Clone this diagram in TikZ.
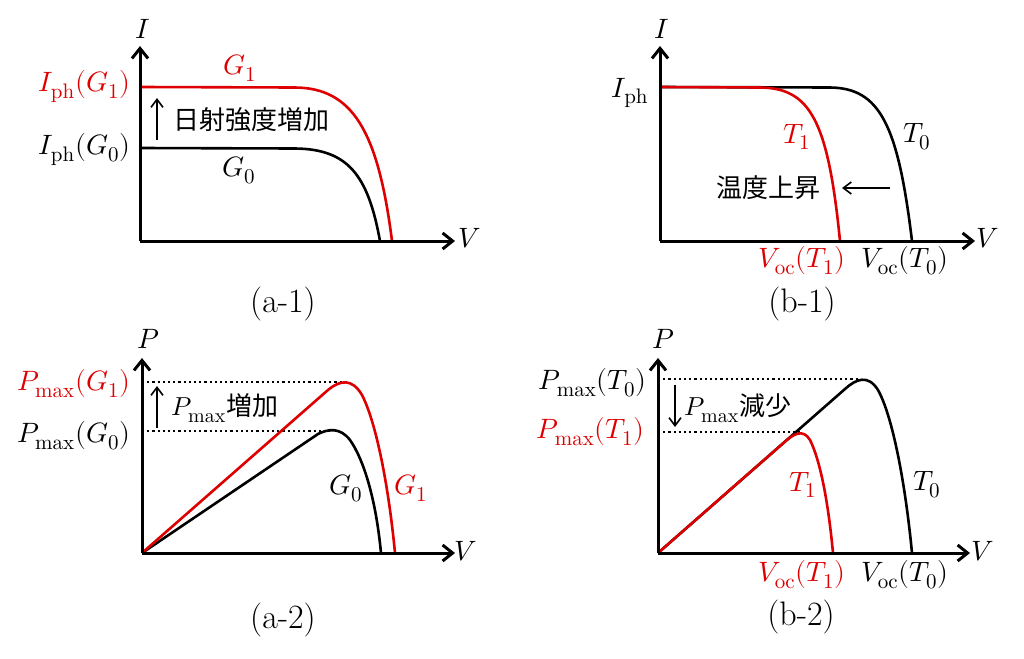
\documentclass[tikz,border=0pt]{standalone}
\usepackage{fontspec}
\usepackage{unicode-math}
\setmathfont{Latin Modern Math}
\DeclareMathSizes{14}{14}{10.5}{8}
\DeclareMathSizes{13}{13}{10}{8}
\newfontfamily\cjk{Noto Sans CJK JP}
\usetikzlibrary{arrows.meta}
\definecolor{cred}{RGB}{222,0,0}
\begin{document}
\begin{tikzpicture}[x=0.5pt,y=-0.5pt,
  axisline/.style={line width=1.5pt,-{Straight Barb[length=5pt,width=8pt]}},
  curveline/.style={line width=1.3pt, line join=round},
  lbl/.style={inner sep=0pt, font=\fontsize{14}{16}\selectfont},
  captxt/.style={inner sep=0pt, font=\fontsize{17}{19}\selectfont},
  jp/.style={inner sep=0pt, font=\fontsize{13}{15}\selectfont\cjk},
  smallarr/.style={line width=0.8pt,-{Straight Barb[length=4pt,width=6pt]}},
  dotline/.style={line width=1.1pt, dash pattern=on 1.1pt off 1.5pt},
]
\useasboundingbox (0,0) rectangle (1024,659);

% ---------------- (a-1) ----------------
\coordinate (a1o) at (140,241);
\coordinate (a1t) at (140,46);
\coordinate (a1r) at (455,241);
\draw[curveline] (140,148) -- (295,148.5) .. controls (348,149) and (368,175) .. (380,241);
\draw[curveline,cred] (140,87) -- (295,87.5) .. controls (352,88) and (378,130) .. (392,241);
\draw[axisline] (a1o) -- (a1t);
\draw[axisline] (a1o) -- (a1r);
\node[lbl] (a1I) at (143,29) {$I$};
\node[lbl] (a1V) at (470,238) {$V$};
\node[lbl,anchor=east,text=cred] (a1ph1) at (131,87) {$I_{\mathrm{ph}}(G_1)$};
\node[lbl,anchor=east] (a1ph0) at (131,150) {$I_{\mathrm{ph}}(G_0)$};
\node[lbl,text=cred] (a1g1) at (240,68) {$G_1$};
\node[lbl] (a1g0) at (239,170) {$G_0$};
\coordinate (a1s) at (157,140);
\coordinate (a1e) at (157,98);
\draw[smallarr] (a1s) -- (a1e);
\node[jp,anchor=west] (a1txt) at (173,120) {日射強度増加};
\node[captxt] (a1cap) at (283,304) {(a-1)};

% ---------------- (b-1) ----------------
\coordinate (b1o) at (660,241);
\coordinate (b1t) at (660,46);
\coordinate (b1r) at (975,241);
\draw[curveline] (660,87) -- (830,87.5) .. controls (880,88) and (898,125) .. (912,241);
\draw[curveline,cred] (660,87) -- (760,87.5) .. controls (810,88) and (828,120) .. (840,241);
\draw[axisline] (b1o) -- (b1t);
\draw[axisline] (b1o) -- (b1r);
\node[lbl] (b1I) at (662,29) {$I$};
\node[lbl] (b1V) at (988,238) {$V$};
\node[lbl,anchor=east] (b1ph) at (649,93) {$I_{\mathrm{ph}}$};
\node[lbl,text=cred] (b1t1) at (797,137) {$T_1$};
\node[lbl] (b1t0) at (917,137) {$T_0$};
\node[jp] (b1txt) at (768,188) {温度上昇};
\coordinate (b1s) at (890,188);
\coordinate (b1e) at (842,188);
\draw[smallarr] (b1s) -- (b1e);
\node[lbl,text=cred] (b1v1) at (802,261) {$V_{\mathrm{oc}}(T_1)$};
\node[lbl] (b1v0) at (905,261) {$V_{\mathrm{oc}}(T_0)$};
\node[captxt] (b1cap) at (802,304) {(b-1)};

% ---------------- (a-2) ----------------
\coordinate (a2o) at (142,553);
\coordinate (a2t) at (142,358);
\coordinate (a2r) at (455,553);
\draw[dotline] (142,382) -- (345,382);
\draw[dotline] (142,431) -- (330,431);
\draw[curveline] (a2o) -- (318,434) .. controls (328,429) and (340,427) .. (350,440) .. controls (364,460) and (376,500) .. (381,553);
\draw[curveline,cred] (a2o) -- (328,390) .. controls (340,380) and (352,378) .. (362,395) .. controls (375,420) and (388,480) .. (395,553);
\draw[axisline] (a2o) -- (a2t);
\draw[axisline] (a2o) -- (a2r);
\node[lbl] (a2P) at (148,339) {$P$};
\node[lbl] (a2V) at (466,551) {$V$};
\node[lbl,anchor=east,text=cred] (a2m1) at (131,384) {$P_{\mathrm{max}}(G_1)$};
\node[lbl,anchor=east] (a2m0) at (131,436) {$P_{\mathrm{max}}(G_0)$};
\coordinate (a2s) at (157,428);
\coordinate (a2e) at (157,386);
\draw[smallarr] (a2s) -- (a2e);
\node[jp,anchor=west] (a2txt) at (171,408) {$P_{\mathrm{max}}$増加};
\node[lbl] (a2g0) at (346,488) {$G_0$};
\node[lbl,text=cred] (a2g1) at (411,488) {$G_1$};
\node[captxt] (a2cap) at (283,620) {(a-2)};

% ---------------- (b-2) ----------------
\coordinate (b2o) at (658,553);
\coordinate (b2t) at (658,358);
\coordinate (b2r) at (970,553);
\draw[dotline] (658,379) -- (860,379);
\draw[dotline] (658,432) -- (800,432);
\draw[curveline] (b2o) -- (845,389) .. controls (856,379) and (868,374) .. (878,390) .. controls (892,415) and (905,480) .. (912,553);
\draw[curveline,cred] (b2o) -- (785,441.6) .. controls (793,434.5) and (803,428) .. (810,440) .. controls (820,460) and (828,500) .. (833,553);
\draw[axisline] (b2o) -- (b2t);
\draw[axisline] (b2o) -- (b2r);
\node[lbl] (b2P) at (663,339) {$P$};
\node[lbl] (b2V) at (983,551) {$V$};
\node[lbl,anchor=east] (b2m0) at (647,383) {$P_{\mathrm{max}}(T_0)$};
\node[lbl,anchor=east,text=cred] (b2m1) at (645,432) {$P_{\mathrm{max}}(T_1)$};
\coordinate (b2s) at (675,385);
\coordinate (b2e) at (675,427);
\draw[smallarr] (b2s) -- (b2e);
\node[jp,anchor=west] (b2txt) at (684,408) {$P_{\mathrm{max}}$減少};
\node[lbl,text=cred] (b2t1) at (803,485) {$T_1$};
\node[lbl] (b2t0) at (927,485) {$T_0$};
\node[lbl,text=cred] (b2v1) at (802,575) {$V_{\mathrm{oc}}(T_1)$};
\node[lbl] (b2v0) at (905,575) {$V_{\mathrm{oc}}(T_0)$};
\node[captxt] (b2cap) at (801,617) {(b-2)};
\end{tikzpicture}
\end{document}
